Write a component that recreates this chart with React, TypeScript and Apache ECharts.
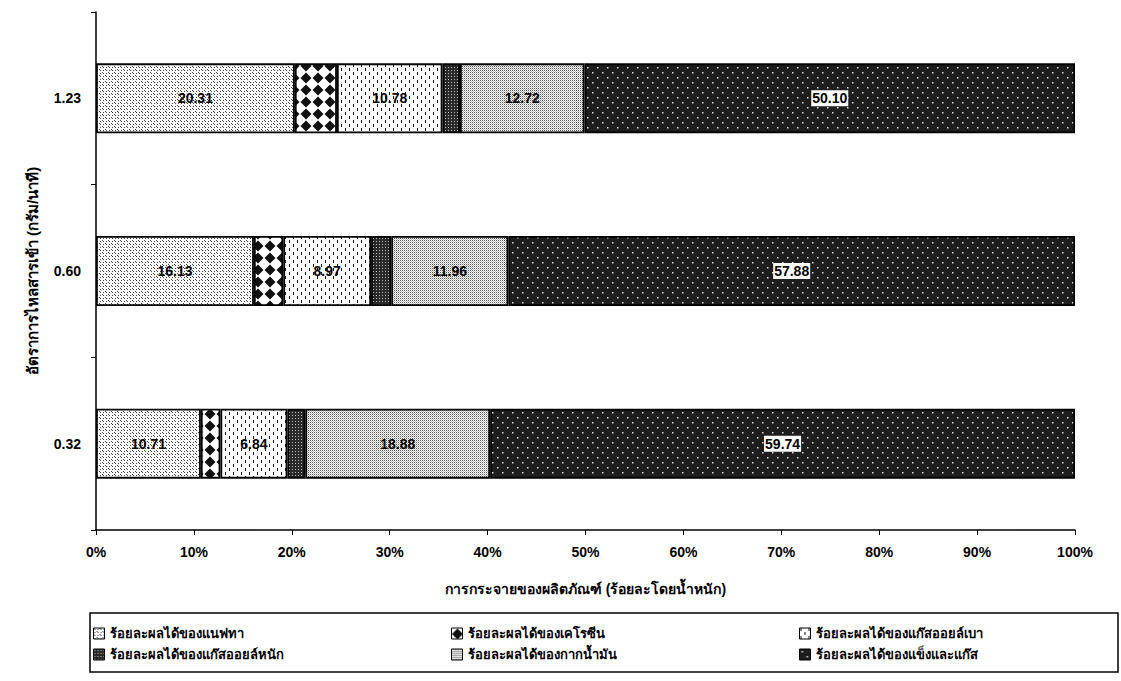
import React, { useEffect, useRef } from "react";
import * as echarts from "echarts";

const categories = ["0.32", "0.60", "1.23"];
const seriesNames = [
  "ร้อยละผลได้ของแนฟทา",
  "ร้อยละผลได้ของเคโรซีน",
  "ร้อยละผลได้ของแก๊สออยล์เบา",
  "ร้อยละผลได้ของแก๊สออยล์หนัก",
  "ร้อยละผลได้ของกากน้ำมัน",
  "ร้อยละผลได้ของแข็งและแก๊ส",
];
const naphtha = [10.71, 16.13, 20.31];
const kerosene = [2.0, 3.0, 4.3];
const lightGasOil = [6.84, 8.97, 10.78];
const heavyGasOil = [1.83, 2.06, 1.79];
const residue = [18.88, 11.96, 12.72];
const solidGas = [59.74, 57.88, 50.1];
const xTicks = [0, 10, 20, 30, 40, 50, 60, 70, 80, 90, 100];
const showLabel = [true, false, true, false, true, true];

function makeTile(size: number, draw: (ctx: CanvasRenderingContext2D) => void) {
  const c = document.createElement("canvas");
  c.width = size;
  c.height = size;
  const ctx = c.getContext("2d")!;
  draw(ctx);
  return { image: c, repeat: "repeat" } as any;
}

function patterns() {
  const naph = makeTile(6, (ctx) => {
    ctx.fillStyle = "#fff";
    ctx.fillRect(0, 0, 6, 6);
    ctx.fillStyle = "#444";
    ctx.fillRect(0, 0, 1, 1);
    ctx.fillRect(1, 1, 1, 1);
    ctx.fillRect(3, 3, 1, 1);
    ctx.fillRect(4, 4, 1, 1);
    ctx.fillRect(4, 1, 1, 1);
    ctx.fillRect(1, 4, 1, 1);
  });
  const kero = makeTile(12, (ctx) => {
    ctx.fillStyle = "#fff";
    ctx.fillRect(0, 0, 12, 12);
    ctx.fillStyle = "#111";
    ctx.beginPath();
    ctx.moveTo(6, 0.5);
    ctx.lineTo(11.5, 6);
    ctx.lineTo(6, 11.5);
    ctx.lineTo(0.5, 6);
    ctx.closePath();
    ctx.fill();
  });
  const lgo = makeTile(8, (ctx) => {
    ctx.fillStyle = "#fff";
    ctx.fillRect(0, 0, 8, 8);
    ctx.fillStyle = "#111";
    ctx.fillRect(1, 0, 1, 3);
    ctx.fillRect(5, 4, 1, 3);
  });
  const hgo = makeTile(3, (ctx) => {
    ctx.fillStyle = "#2a2a2a";
    ctx.fillRect(0, 0, 3, 3);
    ctx.fillStyle = "#bbb";
    ctx.fillRect(1, 1, 1, 1);
  });
  const resid = makeTile(2, (ctx) => {
    ctx.fillStyle = "#fff";
    ctx.fillRect(0, 0, 2, 2);
    ctx.fillStyle = "#555";
    ctx.fillRect(0, 0, 1, 1);
    ctx.fillStyle = "#bbb";
    ctx.fillRect(1, 1, 1, 1);
  });
  const solid = makeTile(10, (ctx) => {
    ctx.fillStyle = "#1e1e1e";
    ctx.fillRect(0, 0, 10, 10);
    ctx.fillStyle = "#ddd";
    ctx.fillRect(2, 2, 1.5, 1.5);
    ctx.fillRect(7, 7, 1.5, 1.5);
  });
  return [naph, kero, lgo, hgo, resid, solid];
}

const FONT = "Arial, 'Liberation Sans', 'Noto Sans', sans-serif";

export default function App() {
  const ref = useRef<HTMLDivElement>(null);
  useEffect(() => {
    document.body.style.margin = "0";
    const chart = echarts.init(ref.current!, null, { renderer: "svg" });
    const fills = patterns();
    const data = [naphtha, kerosene, lightGasOil, heavyGasOil, residue, solidGas];
    const series = seriesNames.map((name, i) => ({
      name,
      type: "bar",
      stack: "total",
      barWidth: 70,
      data: data[i],
      itemStyle: { color: fills[i], borderColor: "#000", borderWidth: 1.8 },
      label: {
        show: showLabel[i],
        position: "inside",
        color: "#000",
        fontWeight: "bold",
        fontSize: 14,
        fontFamily: FONT,
        formatter: (p: any) => p.value.toFixed(2),
        backgroundColor: i === 5 ? "#fff" : "transparent",
        padding: i === 5 ? [1, 1] : 0,
      },
    }));
    const legendCommon = {
      orient: "vertical",
      icon: "rect",
      itemWidth: 11,
      itemHeight: 11,
      itemGap: 8,
      top: 622,
      itemStyle: { borderColor: "#000", borderWidth: 1 },
      textStyle: { color: "#000", fontWeight: "bold", fontSize: 13, fontFamily: FONT },
    };
    chart.setOption({
      animation: false,
      backgroundColor: "#fff",
      grid: { left: 96, right: 46, top: 12, bottom: 151 },
      xAxis: {
        type: "value",
        min: 0,
        max: 100,
        interval: 10,
        name: "การกระจายของผลิตภัณฑ์ (ร้อยละโดยน้ำหนัก)",
        nameLocation: "middle",
        nameGap: 52,
        nameTextStyle: { color: "#000", fontWeight: "bold", fontSize: 14, fontFamily: FONT },
        axisLine: { show: true, lineStyle: { color: "#000", width: 1.5 } },
        axisTick: { show: true, length: 5, lineStyle: { color: "#000" } },
        splitLine: { show: false },
        axisLabel: {
          color: "#000",
          fontWeight: "bold",
          fontSize: 14,
          fontFamily: FONT,
          margin: 15,
          formatter: (v: number) => (xTicks.includes(v) ? v + "%" : ""),
        },
      },
      yAxis: {
        type: "category",
        data: categories,
        name: "อัตราการไหลสารเข้า (กรัม/นาที)",
        nameLocation: "middle",
        nameGap: 56,
        nameRotate: 90,
        nameTextStyle: { color: "#000", fontWeight: "bold", fontSize: 15, fontFamily: FONT },
        axisLine: { lineStyle: { color: "#000", width: 1.5 } },
        axisTick: { show: true, length: 5, alignWithLabel: false, lineStyle: { color: "#000" } },
        axisLabel: { color: "#000", fontWeight: "bold", fontSize: 14, fontFamily: FONT, margin: 15 },
      },
      legend: [
        { ...legendCommon, left: 88, data: [seriesNames[0], seriesNames[3]] },
        { ...legendCommon, left: 446, data: [seriesNames[1], seriesNames[4]] },
        { ...legendCommon, left: 794, data: [seriesNames[2], seriesNames[5]] },
      ],
      graphic: [
        {
          type: "rect",
          shape: { x: 90, y: 613, width: 1028, height: 59 },
          style: { fill: "none", stroke: "#000", lineWidth: 1.5 },
          z: 100,
        },
      ],
      series,
    });
    return () => chart.dispose();
  }, []);
  return <div ref={ref} style={{ width: 1121, height: 681 }} />;
}
